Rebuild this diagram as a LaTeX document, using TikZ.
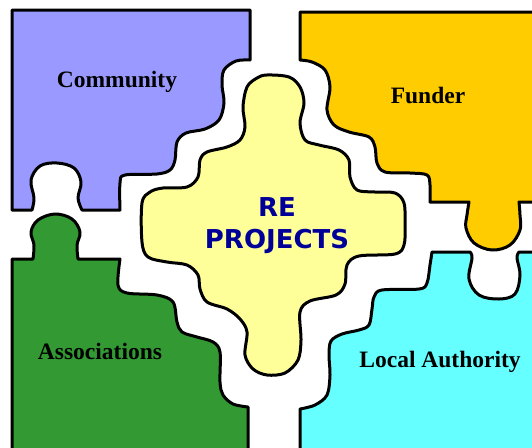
\documentclass[tikz,border=0pt]{standalone}
\usepackage{fontspec}
\setmainfont{Liberation Serif}
\newfontfamily\projfont{DejaVu Sans}
\usepackage{tikz}

\definecolor{communityfill}{HTML}{9999FF}
\definecolor{funderfill}{HTML}{FFCC00}
\definecolor{assocfill}{HTML}{339933}
\definecolor{authorityfill}{HTML}{66FFFF}
\definecolor{projectfill}{HTML}{FFFF99}
\definecolor{projecttext}{HTML}{000099}

\begin{document}
\begin{tikzpicture}[x=1pt,y=-1pt,
    piece/.style={draw=black,line width=3pt,line join=round},
    piecelabel/.style={font=\fontsize{23.5}{28}\selectfont\bfseries,anchor=base,inner sep=0pt}]
    \useasboundingbox (0,0) rectangle (532,447);
    \begin{scope}
    \clip (0,0) rectangle (532,447);
    \draw[piece,fill=communityfill] (12,10) -- (250,10) -- (250,60)
        -- plot[smooth,tension=0.55] coordinates {(250,60) (236,61) (224,70) (222,85) (224,103) (219,120) (205,129) (186,133) (177,142) (175,160) (170,170) (157,174) (125,175) (120,183) (120,210)}
        -- (82,210)
        -- plot[smooth,tension=0.6] coordinates {(82,210) (78,198) (81,182) (74,168) (57,163) (40,166) (31,180) (34,198) (32,210)}
        -- (12,210) -- cycle;
    \draw[piece,fill=funderfill] (300,12) -- (545,12) -- (545,202) -- (519,202)
        -- plot[smooth,tension=0.6] coordinates {(519,202) (520,215) (520,230) (510,245) (492,250) (474,243) (466,228) (467,215) (469,202)}
        -- (430,202)
        -- plot[smooth,tension=0.55] coordinates {(430,202) (430,185) (427,175) (410,173) (385,172) (377,163) (375,147) (369,137) (349,132) (334,125) (327,110) (330,87) (325,70) (312,62) (300,60)}
        -- cycle;
    \draw[piece,fill=assocfill] (12,460) -- (12,259) -- (33,259)
        -- plot[smooth,tension=0.6] coordinates {(33,259) (34,245) (31,232) (38,220) (55,214) (72,219) (80,232) (77,245) (78,259)}
        -- (120,259)
        -- plot[smooth,tension=0.55] coordinates {(120,259) (118,285) (127,293) (157,295) (173,302) (177,322) (182,332) (197,337) (213,342) (220,352) (220,382) (223,395) (233,404) (248,407)}
        -- (248,460) -- cycle;
    \draw[piece,fill=authorityfill] (300,460) -- (300,409)
        -- plot[smooth,tension=0.55] coordinates {(300,409) (315,405) (327,395) (330,375) (329,355) (331,341) (342,334) (359,330) (369,325) (372,309) (374,297) (382,290) (419,289) (427,283) (430,265) (432,252)}
        -- (470,252)
        -- plot[smooth,tension=0.6] coordinates {(470,252) (472,258) (469,279) (479,295) (499,299) (515,294) (520,275) (517,258) (519,252)}
        -- (545,252) -- (545,460) -- cycle;
    \draw[piece,fill=projectfill] plot[smooth cycle,tension=0.55] coordinates {(267,75) (289,77) (300,87) (304,103) (300,123) (305,140) (319,145) (339,150) (349,160) (350,177) (357,190) (375,192) (395,193) (404,203) (405,225) (404,245) (395,254) (359,256) (347,265) (345,284) (336,295) (310,301) (300,312) (301,340) (298,360) (285,373) (267,375) (253,369) (245,355) (247,332) (240,319) (227,309) (207,302) (200,289) (198,275) (187,265) (167,262) (148,257) (142,242) (142,203) (150,192) (163,188) (187,187) (198,177) (200,160) (207,152) (227,147) (240,140) (245,127) (243,107) (247,87) (257,78)};
    \end{scope}
    \node[piecelabel] (community) at (117,87) {Community};
    \node[piecelabel] (funder) at (428,103) {Funder};
    \node[piecelabel] (assoc) at (100,359) {Associations};
    \node[piecelabel] (authority) at (440,367) {Local Authority};
    \node[font=\projfont\fontsize{26}{32}\selectfont\bfseries,text=projecttext,align=center,inner sep=0pt] (projects) at (277,226) {RE\\PROJECTS};
\end{tikzpicture}
\end{document}
